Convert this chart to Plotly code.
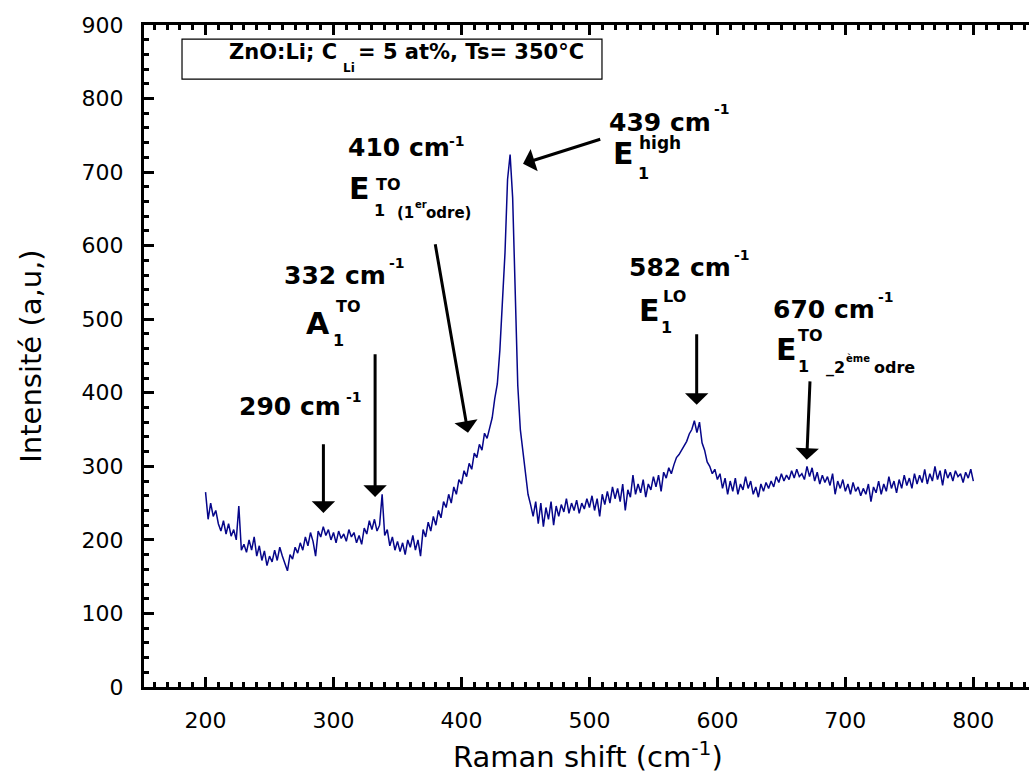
import plotly.graph_objects as go

# Raman spectrum of ZnO:Li film (C_Li = 5 at%, Ts = 350 °C)
raman_shift = list(range(200, 801, 2))  # cm^-1, sampling grid

intensity = [
    265, 228, 250, 232, 240, 222, 212, 226, 208, 222,   # 200
    205, 214, 200, 246, 186, 194, 183, 200, 186, 204,   # 220
    178, 192, 172, 185, 165, 178, 170, 186, 172, 190,   # 240
    178, 168, 158, 180, 174, 190, 182, 196, 186, 204,   # 260
    192, 210, 198, 178, 212, 204, 218, 206, 214, 200,   # 280
    210, 196, 212, 202, 208, 198, 214, 204, 210, 196,   # 300
    206, 194, 216, 208, 226, 214, 228, 212, 220, 262,   # 320
    206, 214, 192, 204, 186, 198, 184, 196, 180, 200,   # 340
    190, 206, 186, 200, 178, 214, 204, 224, 212, 232,   # 360
    220, 240, 230, 252, 244, 262, 250, 272, 262, 282,   # 380
    276, 294, 286, 304, 296, 318, 312, 330, 322, 345,   # 400
    338, 352, 366, 392, 412, 458, 520, 590, 690, 724,   # 420
    665, 540, 410, 350, 318, 286, 262, 248, 232, 252,   # 440
    222, 250, 218, 244, 228, 252, 220, 246, 232, 248,   # 460
    238, 256, 236, 250, 240, 254, 236, 250, 242, 256,   # 480
    244, 260, 240, 256, 232, 262, 248, 266, 250, 272,   # 500
    256, 270, 252, 276, 240, 268, 258, 288, 262, 276,   # 520
    264, 282, 258, 276, 268, 286, 272, 288, 266, 292,   # 540
    284, 298, 290, 302, 312, 316, 322, 330, 334, 344,   # 560
    350, 362, 346, 360, 332, 322, 306, 300, 290, 296,   # 580
    282, 290, 270, 284, 262, 280, 266, 284, 262, 276,   # 600
    268, 286, 270, 280, 262, 272, 258, 276, 266, 278,   # 620
    270, 280, 272, 286, 278, 290, 280, 288, 282, 294,   # 640
    284, 296, 286, 290, 282, 300, 286, 298, 280, 292,   # 660
    276, 288, 278, 286, 274, 290, 262, 280, 270, 282,   # 680
    266, 276, 262, 278, 266, 272, 260, 270, 262, 276,   # 700
    252, 272, 264, 280, 262, 276, 266, 286, 270, 280,   # 720
    264, 282, 270, 288, 274, 284, 270, 290, 276, 288,   # 740
    278, 296, 276, 290, 280, 300, 282, 294, 274, 296,   # 760
    284, 292, 280, 294, 286, 290, 278, 292, 284, 296,   # 780
    280,                                                 # 800
]

# Positions of the assigned Raman modes
mode_labels = ["290 cm", "332 cm", "410 cm", "439 cm", "582 cm", "670 cm"]

FONT = "DejaVu Sans"
LINE_COLOR = "#06068a"

fig = go.Figure()
fig.add_trace(go.Scatter(
    x=raman_shift, y=intensity, mode="lines",
    line=dict(color=LINE_COLOR, width=1.5),
    showlegend=False, hoverinfo="skip",
))


def txt(x, y, text, size, bold=True, anchor="left"):
    return dict(
        x=x, y=y, xref="x", yref="y", showarrow=False,
        text=f"<b>{text}</b>" if bold else text,
        xanchor=anchor, yanchor="middle", borderpad=0,
        font=dict(family=FONT, size=size, color="black"),
    )


def arrow(x_tip, y_tip, x_tail, y_tail):
    return dict(
        x=x_tip, y=y_tip, ax=x_tail, ay=y_tail,
        xref="x", yref="y", axref="x", ayref="y",
        text="", showarrow=True, arrowhead=1, arrowsize=1.3,
        arrowwidth=3, arrowcolor="black", standoff=0,
    )


annotations = []

# Sample description in the framed box
annotations += [
    txt(217.6, 863, "ZnO:Li; C", 21),
    txt(306.8, 841.5, "Li", 12),
    txt(318.4, 863, "= 5 at%, Ts= 350°C", 21),
]

# 290 cm-1
annotations += [
    txt(225.4, 381, mode_labels[0], 25),
    txt(309.0, 394.5, "-1", 14),
    arrow(292.1, 236.7, 292.1, 331.9),
]

# 332 cm-1, A1(TO)
annotations += [
    txt(260.8, 559, mode_labels[1], 25),
    txt(342.6, 577, "-1", 14),
    txt(277.8, 494.4, "A", 30),
    txt(301.2, 517.5, "TO", 16),
    txt(298.9, 471.3, "1", 16),
    arrow(332.5, 258.4, 332.5, 454.3),
]

# 410 cm-1, E1(TO) first order
annotations += [
    txt(310.3, 733, mode_labels[2], 25),
    txt(389.6, 742.6, "-1", 14),
    txt(311.4, 677.4, "E", 30),
    txt(332.5, 682.8, "TO", 16),
    txt(330.9, 647.4, "1", 16),
    txt(349.0, 644.7, "(1", 15),
    txt(362.6, 655.6, "er", 10),
    txt(371.2, 644.7, "odre)", 15),
    arrow(405.1, 345.5, 379.3, 603.9),
]

# 439 cm-1, E1(high)
annotations += [
    txt(514.5, 768, mode_labels[3], 25),
    txt(596.6, 786, "-1", 14),
    txt(517.6, 725, "E", 30),
    txt(538.0, 739.0, "high", 17),
    txt(537.2, 697.8, "1", 16),
    arrow(448.1, 711.4, 509.6, 745.4),
]

# 582 cm-1, E1(LO)
annotations += [
    txt(530.2, 570.6, mode_labels[4], 25),
    txt(612.2, 587.6, "-1", 14),
    txt(538.0, 511.4, "E", 30),
    txt(556.7, 530.5, "LO", 16),
    txt(555.2, 488.3, "1", 16),
    arrow(583.8, 383.6, 583.8, 481.5),
]

# 670 cm-1, E1(TO) second order
annotations += [
    txt(642.7, 512.8, mode_labels[5], 25),
    txt(724.7, 529.8, "-1", 14),
    txt(645.0, 458.4, "E", 30),
    txt(662.2, 477.4, "TO", 16),
    txt(662.2, 435.3, "1", 16),
    txt(684.2, 433.9, "_2", 16),
    txt(699.8, 446.0, "ème", 10),
    txt(721.6, 433.9, "odre", 16),
    arrow(669.8, 308.8, 672.4, 417.6),
]

# Axis titles
annotations += [
    dict(x=-0.128, y=0.5, xref="paper", yref="paper", showarrow=False,
         text="Intensité (a,u,)", textangle=-90,
         xanchor="center", yanchor="middle",
         font=dict(family=FONT, size=29, color="black")),
    dict(x=0.502, y=-0.103, xref="paper", yref="paper", showarrow=False,
         text="Raman shift (cm<sup>-1</sup>)",
         xanchor="center", yanchor="middle",
         font=dict(family=FONT, size=29, color="black")),
]

fig.update_layout(
    width=1029, height=778,
    margin=dict(l=144, r=0, t=25, b=91),
    paper_bgcolor="white", plot_bgcolor="white",
    annotations=annotations,
    shapes=[dict(type="rect", xref="x", yref="y",
                 x0=181.6, x1=509.8, y0=826.3, y1=880.7,
                 line=dict(color="black", width=1.2))],
    font=dict(family=FONT, color="black"),
)

fig.update_xaxes(
    range=[151.9, 843.5], showgrid=False, zeroline=False,
    showline=True, linewidth=3, linecolor="black", mirror="allticks",
    ticks="inside", ticklen=10, tickwidth=3, tickcolor="black",
    tick0=200, dtick=100, ticklabelstandoff=12,
    tickfont=dict(family=FONT, size=22, color="black"),
    minor=dict(ticks="inside", ticklen=5, tickwidth=3, dtick=10,
               tickcolor="black", showgrid=False),
)
fig.update_yaxes(
    range=[0, 900], showgrid=False, zeroline=False,
    showline=True, linewidth=3, linecolor="black",
    ticks="inside", ticklen=10, tickwidth=3, tickcolor="black",
    tick0=0, dtick=100, ticklabelstandoff=13,
    tickfont=dict(family=FONT, size=22, color="black"),
    minor=dict(ticks="inside", ticklen=5, tickwidth=3, dtick=20,
               tickcolor="black", showgrid=False),
)

fig.write_html("out.html")
